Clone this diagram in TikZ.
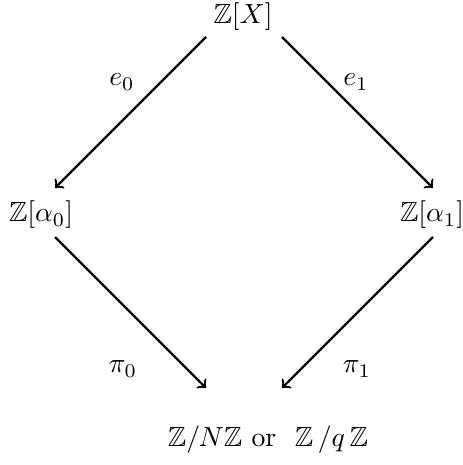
\documentclass[tikz,border=0pt]{standalone}
\usepackage{amssymb}
\begin{document}
\begin{tikzpicture}[x=0.0127cm,y=-0.0127cm]
\useasboundingbox (0,0) rectangle (463,465);
% objects
\node[inner sep=1pt] (top) at (243,17) {$\mathbb{Z}[X]$};
\node (left) at (41,215) {$\mathbb{Z}[\alpha_0]$};
\node (right) at (432,215) {$\mathbb{Z}[\alpha_1]$};
\node (bot) at (268,440) {$\mathbb{Z}/N\mathbb{Z}$ or\ \ $\mathbb{Z}\,/q\,\mathbb{Z}$};
% arrow ends
\coordinate (lin) at (55,188);
\coordinate (rin) at (433,188);
\coordinate (lout) at (55,237);
\coordinate (rout) at (433,237);
\coordinate (bl) at (206,388);
\coordinate (br) at (282,388);
\coordinate (tl) at (206,37);
\coordinate (tr) at (282,37);
\draw[->, thick] (tl) -- (lin);
\draw[->, thick] (tr) -- (rin);
\draw[->, thick] (lout) -- (bl);
\draw[->, thick] (rout) -- (br);
\node (e0) at (122,82) {$e_0$};
\node (e1) at (356,82) {$e_1$};
\node (p0) at (123,369) {$\pi_0$};
\node (p1) at (357,369) {$\pi_1$};
\end{tikzpicture}
\end{document}
